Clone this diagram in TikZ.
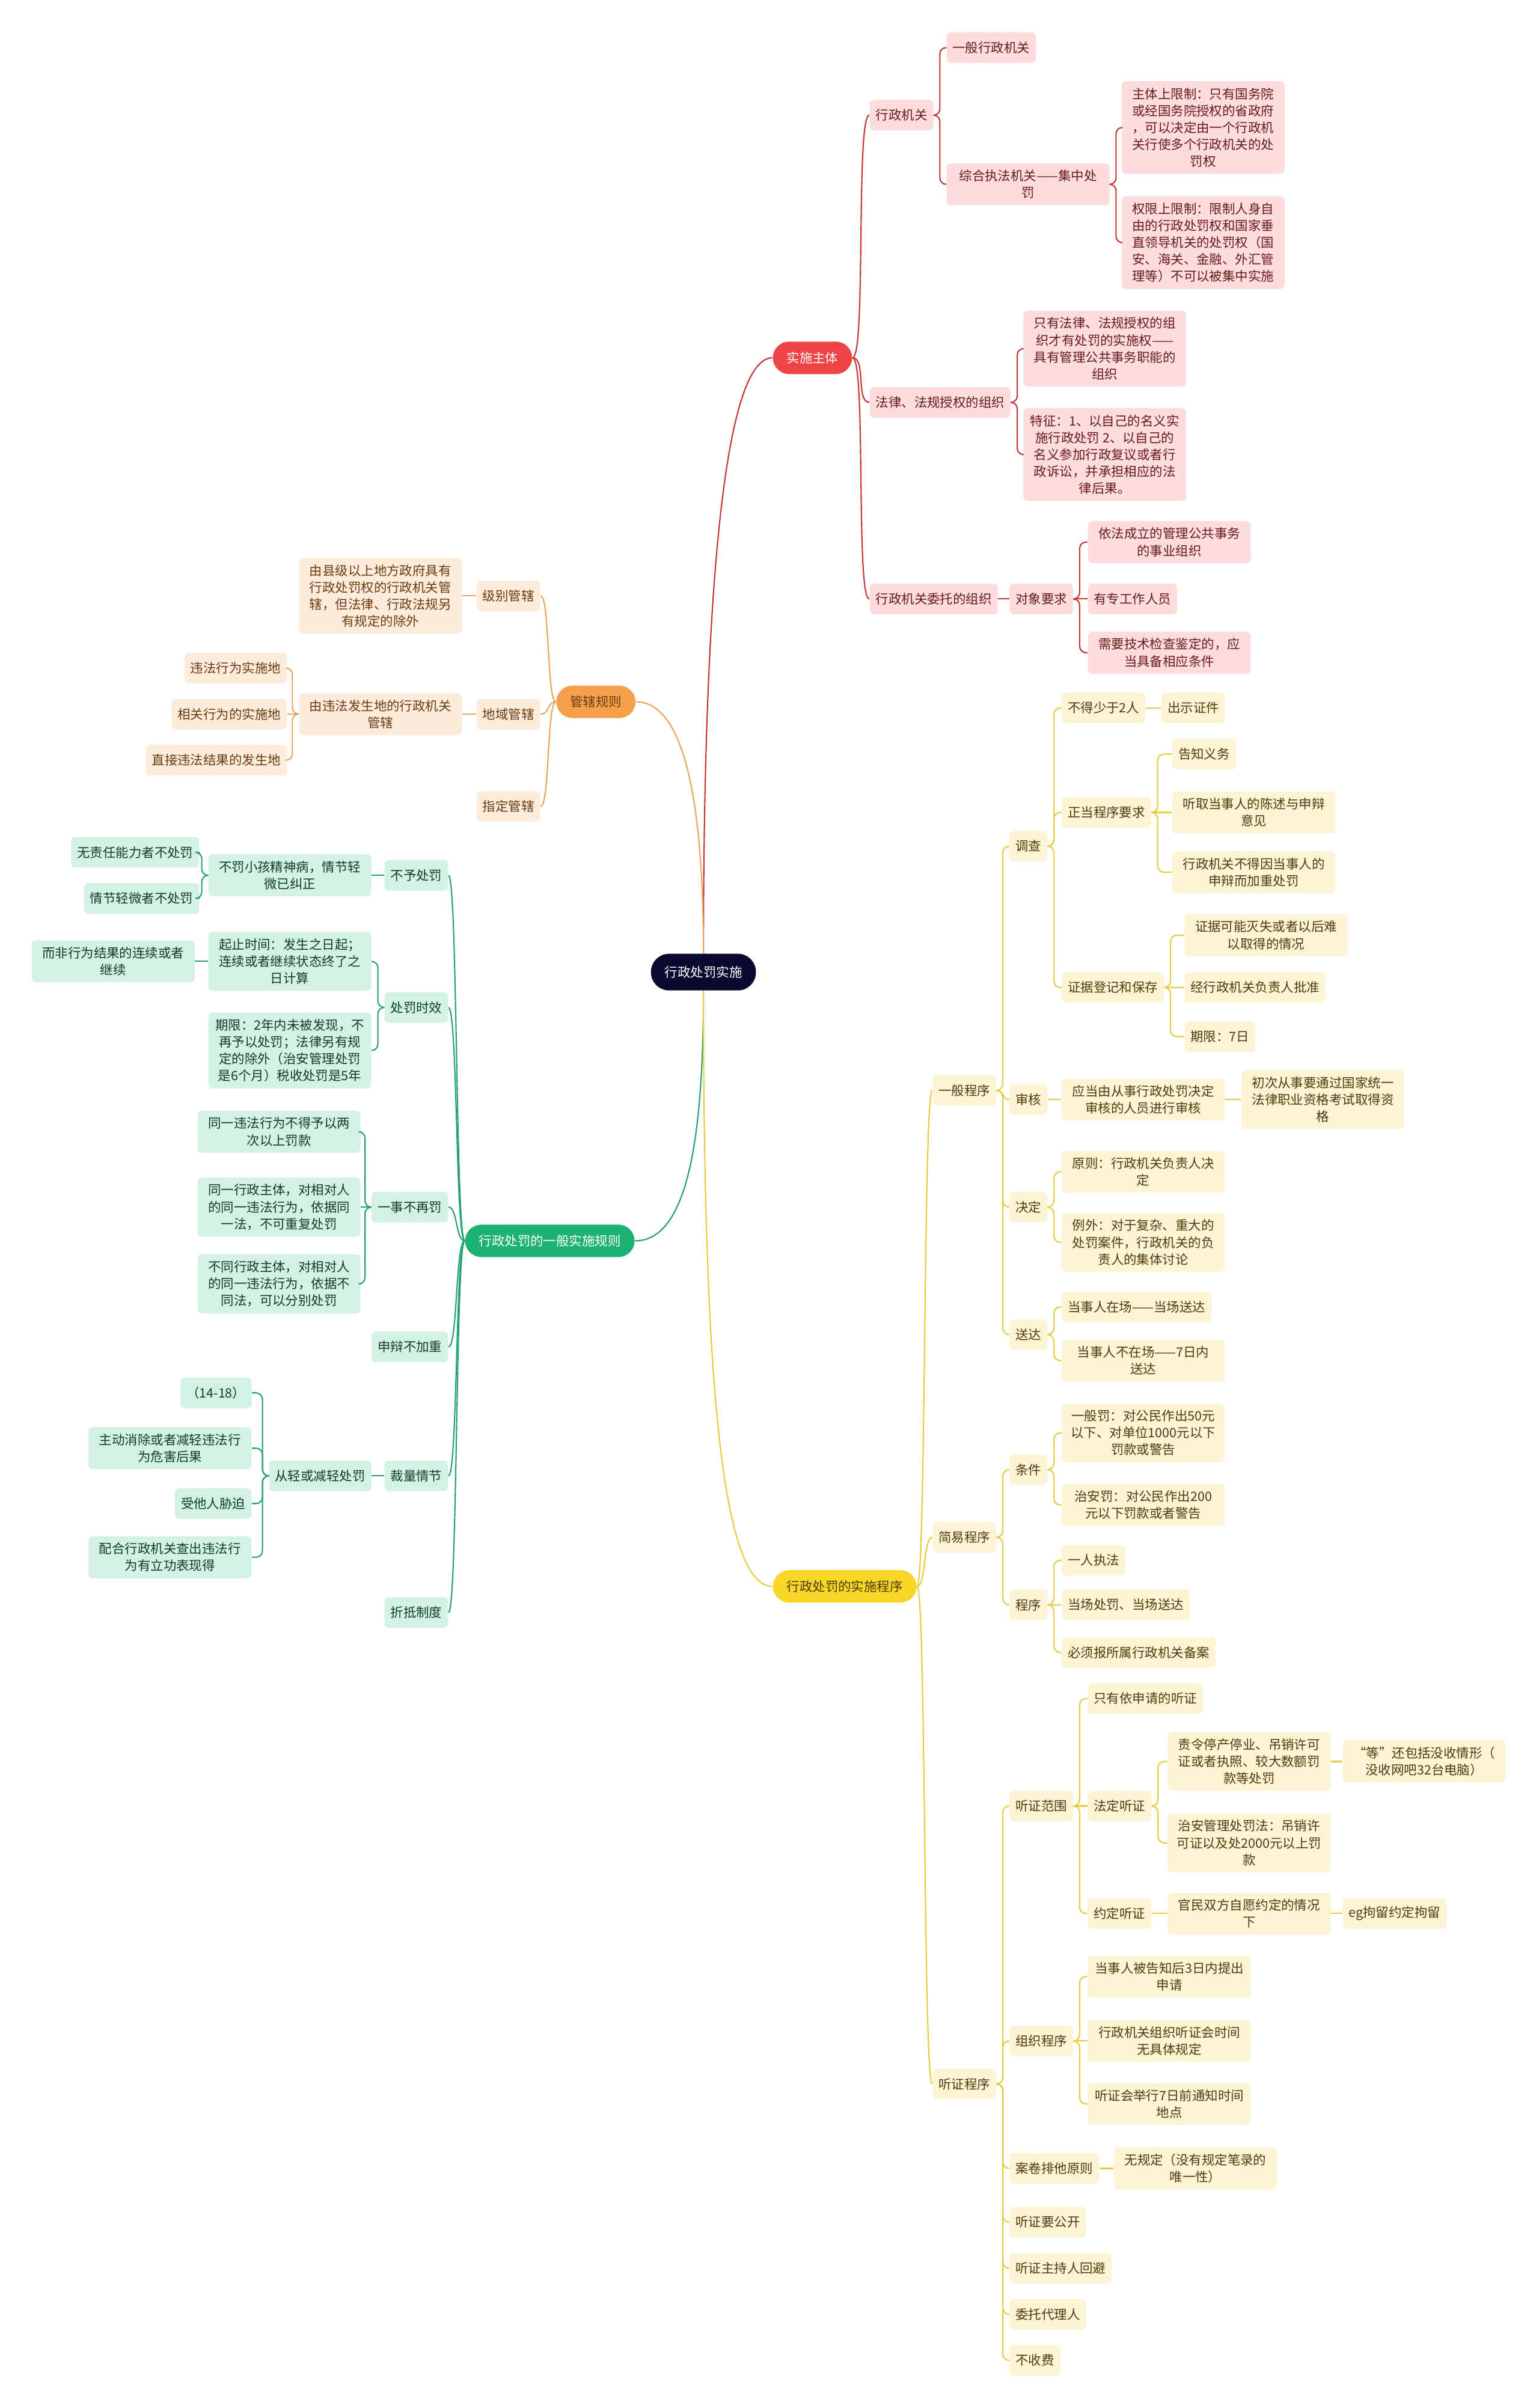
\documentclass[tikz,border=0pt]{standalone}
\usepackage{fontspec}
\setmainfont{Noto Sans CJK SC}
\usepackage{tikz}

\definecolor{rootbg}{HTML}{0A0A2E}
\definecolor{redmain}{HTML}{EF4444}
\definecolor{redfill}{HTML}{FCDCDC}
\definecolor{redtext}{HTML}{6B1A1A}
\definecolor{redline}{HTML}{C83232}
\definecolor{ormain}{HTML}{F5A04B}
\definecolor{orfill}{HTML}{FDEBDC}
\definecolor{ortext}{HTML}{6B3C12}
\definecolor{orline}{HTML}{E9A45C}
\definecolor{grmain}{HTML}{1DB272}
\definecolor{grfill}{HTML}{D3F2E4}
\definecolor{grtext}{HTML}{123C2A}
\definecolor{grline}{HTML}{24A072}
\definecolor{yemain}{HTML}{F8D628}
\definecolor{yefill}{HTML}{FCF4D4}
\definecolor{yetext}{HTML}{4E3C0C}
\definecolor{yeline}{HTML}{EBCB3A}

\newcommand{\mapfont}{\fontsize{6.1pt}{8pt}\selectfont}

\begin{document}
\begin{tikzpicture}[x=0.2555mm, y=-0.2555mm,
	box/.style={rounded corners=2pt, inner xsep=1mm, inner ysep=3.1pt, minimum height=5.1mm, align=center, font=\mapfont},
	wide/.style={minimum width=27.1mm},
	pill/.style={rounded corners=2.7mm, inner xsep=2.3mm, minimum height=5.4mm, font=\mapfont},
	rbox/.style={box, fill=redfill, text=redtext},
	obox/.style={box, fill=orfill, text=ortext},
	gbox/.style={box, fill=grfill, text=grtext},
	ybox/.style={box, fill=yefill, text=yetext},
	rl/.style={draw=redline, line width=0.6pt, rounded corners=3pt},
	ol/.style={draw=orline, line width=0.6pt, rounded corners=3pt},
	gl/.style={draw=grline, line width=0.6pt, rounded corners=3pt},
	yl/.style={draw=yeline, line width=0.6pt, rounded corners=3pt}]

\useasboundingbox[fill=white] (0,0) rectangle (1002,1568);

% ---- centre ----
\node[pill, fill=rootbg, text=white, minimum height=6.1mm, rounded corners=3mm] (root) at (458,633) {行政处罚实施};
\node[pill, fill=redmain, text=white] (subj) at (529,233) {实施主体};
\node[pill, fill=ormain, text=ortext] (juris) at (388,457) {管辖规则};
\node[pill, fill=grmain, text=white] (genrule) at (358,808) {行政处罚的一般实施规则};
\node[pill, fill=yemain, text=yetext] (proc) at (550,1033) {行政处罚的实施程序};

% ---- 实施主体 ----
\node[rbox, anchor=west] (agency) at (566,75) {行政机关};
\node[rbox, anchor=west] (genag) at (616,31) {一般行政机关};
\node[rbox, wide, anchor=west] (compag) at (616,120) {综合执法机关——集中处\\罚};
\node[rbox, wide, anchor=west] (limsub) at (730,83) {主体上限制：只有国务院\\或经国务院授权的省政府\\，可以决定由一个行政机\\关行使多个行政机关的处\\罚权};
\node[rbox, wide, anchor=west] (limpow) at (730,158) {权限上限制：限制人身自\\由的行政处罚权和国家垂\\直领导机关的处罚权（国\\安、海关、金融、外汇管\\理等）不可以被集中实施};
\node[rbox, anchor=west] (authorg) at (566,262) {法律、法规授权的组织};
\node[rbox, wide, anchor=west] (authonly) at (666,227) {只有法律、法规授权的组\\织才有处罚的实施权——\\具有管理公共事务职能的\\组织};
\node[rbox, wide, anchor=west] (authfeat) at (666,296) {特征：1、以自己的名义实\\施行政处罚 2、以自己的\\名义参加行政复议或者行\\政诉讼，并承担相应的法\\律后果。};
\node[rbox, anchor=west] (entorg) at (566,390) {行政机关委托的组织};
\node[rbox, anchor=west] (objreq) at (657,390) {对象要求};
\node[rbox, wide, anchor=west] (req1) at (708,353) {依法成立的管理公共事务\\的事业组织};
\node[rbox, anchor=west] (req2) at (708,390) {有专工作人员};
\node[rbox, wide, anchor=west] (req3) at (708,425) {需要技术检查鉴定的，应\\当具备相应条件};

% ---- 管辖规则 ----
\node[obox, anchor=east] (lvl) at (352,388) {级别管辖};
\node[obox, wide, anchor=east] (lvltxt) at (301,388) {由县级以上地方政府具有\\行政处罚权的行政机关管\\辖，但法律、行政法规另\\有规定的除外};
\node[obox, anchor=east] (terr) at (352,465) {地域管辖};
\node[obox, wide, anchor=east] (terrtxt) at (301,465) {由违法发生地的行政机关\\管辖};
\node[obox, anchor=east] (place1) at (187,435) {违法行为实施地};
\node[obox, anchor=east] (place2) at (187,465) {相关行为的实施地};
\node[obox, anchor=east] (place3) at (187,495) {直接违法结果的发生地};
\node[obox, anchor=east] (desig) at (352,525) {指定管辖};

% ---- 一般实施规则 ----
\node[gbox, anchor=east] (nopen) at (292,570) {不予处罚};
\node[gbox, wide, anchor=east] (nopentxt) at (242,570) {不罚小孩精神病，情节轻\\微已纠正};
\node[gbox, anchor=east] (np1) at (130,555) {无责任能力者不处罚};
\node[gbox, anchor=east] (np2) at (130,585) {情节轻微者不处罚};
\node[gbox, anchor=east] (limit) at (292,656) {处罚时效};
\node[gbox, wide, anchor=east] (limstart) at (242,626) {起止时间：发生之日起；\\连续或者继续状态终了之\\日计算};
\node[gbox, wide, anchor=east] (limnote) at (127,626) {而非行为结果的连续或者\\继续};
\node[gbox, wide, anchor=east] (limterm) at (242,684) {期限：2年内未被发现，不\\再予以处罚；法律另有规\\定的除外（治安管理处罚\\是6个月）税收处罚是5年};
\node[gbox, anchor=east] (once) at (292,786) {一事不再罚};
\node[gbox, wide, anchor=east] (once1) at (235,737) {同一违法行为不得予以两\\次以上罚款};
\node[gbox, wide, anchor=east] (once2) at (235,786) {同一行政主体，对相对人\\的同一违法行为，依据同\\一法，不可重复处罚};
\node[gbox, wide, anchor=east] (once3) at (235,836) {不同行政主体，对相对人\\的同一违法行为，依据不\\同法，可以分别处罚};
\node[gbox, anchor=east] (defend) at (292,877) {申辩不加重};
\node[gbox, anchor=east] (discr) at (292,961) {裁量情节};
\node[gbox, anchor=east] (mitig) at (242,961) {从轻或减轻处罚};
\node[gbox, anchor=east] (mit1) at (164,907) {（14-18）};
\node[gbox, wide, anchor=east] (mit2) at (164,943) {主动消除或者减轻违法行\\为危害后果};
\node[gbox, anchor=east] (mit3) at (164,979) {受他人胁迫};
\node[gbox, wide, anchor=east] (mit4) at (164,1014) {配合行政机关查出违法行\\为有立功表现得};
\node[gbox, anchor=east] (offset) at (292,1050) {折抵制度};

% ---- 实施程序: 一般程序 ----
\node[ybox, anchor=west] (gen) at (607,710) {一般程序};
\node[ybox, anchor=west] (inv) at (657,551) {调查};
\node[ybox, anchor=west] (inv1) at (691,461) {不得少于2人};
\node[ybox, anchor=west] (inv1a) at (756,461) {出示证件};
\node[ybox, anchor=west] (inv2) at (691,529) {正当程序要求};
\node[ybox, anchor=west] (due1) at (763,491) {告知义务};
\node[ybox, wide, anchor=west] (due2) at (763,529) {听取当事人的陈述与申辩\\意见};
\node[ybox, wide, anchor=west] (due3) at (763,568) {行政机关不得因当事人的\\申辩而加重处罚};
\node[ybox, anchor=west] (inv3) at (691,643) {证据登记和保存};
\node[ybox, wide, anchor=west] (ev1) at (771,609) {证据可能灭失或者以后难\\以取得的情况};
\node[ybox, anchor=west] (ev2) at (771,643) {经行政机关负责人批准};
\node[ybox, anchor=west] (ev3) at (771,675) {期限：7日};
\node[ybox, anchor=west] (rev) at (657,716) {审核};
\node[ybox, wide, anchor=west] (rev1) at (691,716) {应当由从事行政处罚决定\\审核的人员进行审核};
\node[ybox, wide, anchor=west] (rev2) at (808,716) {初次从事要通过国家统一\\法律职业资格考试取得资\\格};
\node[ybox, anchor=west] (dec) at (657,786) {决定};
\node[ybox, wide, anchor=west] (dec1) at (691,763) {原则：行政机关负责人决\\定};
\node[ybox, wide, anchor=west] (dec2) at (691,809) {例外：对于复杂、重大的\\处罚案件，行政机关的负\\责人的集体讨论};
\node[ybox, anchor=west] (serv) at (657,869) {送达};
\node[ybox, anchor=west] (serv1) at (691,851) {当事人在场——当场送达};
\node[ybox, wide, anchor=west] (serv2) at (691,886) {当事人不在场——7日内\\送达};

% ---- 简易程序 ----
\node[ybox, anchor=west] (simp) at (607,1001) {简易程序};
\node[ybox, anchor=west] (cond) at (657,957) {条件};
\node[ybox, wide, anchor=west] (cond1) at (691,933) {一般罚：对公民作出50元\\以下、对单位1000元以下\\罚款或警告};
\node[ybox, wide, anchor=west] (cond2) at (691,980) {治安罚：对公民作出200\\元以下罚款或者警告};
\node[ybox, anchor=west] (sproc) at (657,1045) {程序};
\node[ybox, anchor=west] (sp1) at (691,1016) {一人执法};
\node[ybox, anchor=west] (sp2) at (691,1045) {当场处罚、当场送达};
\node[ybox, anchor=west] (sp3) at (691,1076) {必须报所属行政机关备案};

% ---- 听证程序 ----
\node[ybox, anchor=west] (hear) at (607,1357) {听证程序};
\node[ybox, anchor=west] (hscope) at (657,1176) {听证范围};
\node[ybox, anchor=west] (hs1) at (708,1106) {只有依申请的听证};
\node[ybox, anchor=west] (hs2) at (708,1176) {法定听证};
\node[ybox, wide, anchor=west] (legal1) at (760,1147) {责令停产停业、吊销许可\\证或者执照、较大数额罚\\款等处罚};
\node[ybox, wide, anchor=west] (legal1a) at (874,1147) {“等”还包括没收情形（\\没收网吧32台电脑）};
\node[ybox, wide, anchor=west] (legal2) at (760,1200) {治安管理处罚法：吊销许\\可证以及处2000元以上罚\\款};
\node[ybox, anchor=west] (hs3) at (708,1246) {约定听证};
\node[ybox, wide, anchor=west] (agreed) at (760,1246) {官民双方自愿约定的情况\\下};
\node[ybox, anchor=west] (agreeda) at (874,1246) {eg拘留约定拘留};
\node[ybox, anchor=west] (org) at (657,1329) {组织程序};
\node[ybox, wide, anchor=west] (org1) at (708,1287) {当事人被告知后3日内提出\\申请};
\node[ybox, wide, anchor=west] (org2) at (708,1329) {行政机关组织听证会时间\\无具体规定};
\node[ybox, wide, anchor=west] (org3) at (708,1370) {听证会举行7日前通知时间\\地点};
\node[ybox, anchor=west] (file) at (657,1412) {案卷排他原则};
\node[ybox, wide, anchor=west] (file1) at (725,1412) {无规定（没有规定笔录的\\唯一性）};
\node[ybox, anchor=west] (pub) at (657,1447) {听证要公开};
\node[ybox, anchor=west] (recuse) at (657,1477) {听证主持人回避};
\node[ybox, anchor=west] (agent) at (657,1507) {委托代理人};
\node[ybox, anchor=west] (free) at (657,1537) {不收费};

% ---- connectors from the centre ----
\draw[rl] (root.north) .. controls (458,400) and (470,233) .. (subj.west);
\draw[ol] (juris.east) .. controls (445,457) and (458,520) .. (root.north);
\draw[gl] (root.south) .. controls (458,740) and (448,808) .. (genrule.east);
\draw[yl] (root.south) .. controls (458,900) and (470,1033) .. (proc.west);

% ---- main branches to their children ----
\foreach \c in {agency,authorg,entorg}
	\draw[rl] (subj.east) .. controls +(9,0) and +(-9,0) .. (\c.west);
\foreach \c in {lvl,terr,desig}
	\draw[ol] (juris.west) .. controls +(-6,0) and +(6,0) .. (\c.east);
\foreach \c in {nopen,limit,once,defend,discr,offset}
	\draw[gl] (genrule.west) .. controls +(-6,0) and +(6,0) .. (\c.east);
\foreach \c in {gen,simp,hear}
	\draw[yl] (proc.east) .. controls +(6,0) and +(-6,0) .. (\c.west);

% ---- elbows ----
\foreach \p/\c in {agency/genag, agency/compag, compag/limsub, compag/limpow,
		authorg/authonly, authorg/authfeat, objreq/req1, objreq/req3}
	\draw[rl] (\p.east) -- ++(4,0) |- (\c.west);
\foreach \p/\c in {entorg/objreq, objreq/req2}
	\draw[rl] (\p.east) -- (\c.west);

\foreach \p/\c in {terrtxt/place1, terrtxt/place3}
	\draw[ol] (\p.west) -- ++(-4,0) |- (\c.east);
\foreach \p/\c in {lvl/lvltxt, terr/terrtxt, terrtxt/place2}
	\draw[ol] (\p.west) -- (\c.east);

\foreach \p/\c in {nopentxt/np1, nopentxt/np2, limit/limstart, limit/limterm,
		once/once1, once/once3, mitig/mit1, mitig/mit2, mitig/mit3, mitig/mit4}
	\draw[gl] (\p.west) -- ++(-4,0) |- (\c.east);
\foreach \p/\c in {nopen/nopentxt, limstart/limnote, once/once2, discr/mitig}
	\draw[gl] (\p.west) -- (\c.east);

\foreach \p/\c in {gen/inv, gen/rev, gen/dec, gen/serv, inv/inv1, inv/inv2, inv/inv3,
		inv2/due1, inv2/due3, inv3/ev1, inv3/ev3, dec/dec1, dec/dec2,
		serv/serv1, serv/serv2, simp/cond, simp/sproc, cond/cond1, cond/cond2,
		sproc/sp1, sproc/sp3, hear/hscope, hear/org, hear/file, hear/pub,
		hear/recuse, hear/agent, hear/free, hscope/hs1, hscope/hs3,
		hs2/legal1, hs2/legal2, org/org1, org/org3}
	\draw[yl] (\p.east) -- ++(4,0) |- (\c.west);
\foreach \p/\c in {inv1/inv1a, inv2/due2, inv3/ev2, rev/rev1, rev1/rev2, sproc/sp2,
		hscope/hs2, legal1/legal1a, hs3/agreed, agreed/agreeda, org/org2, file/file1}
	\draw[yl] (\p.east) -- (\c.west);
\end{tikzpicture}
\end{document}
